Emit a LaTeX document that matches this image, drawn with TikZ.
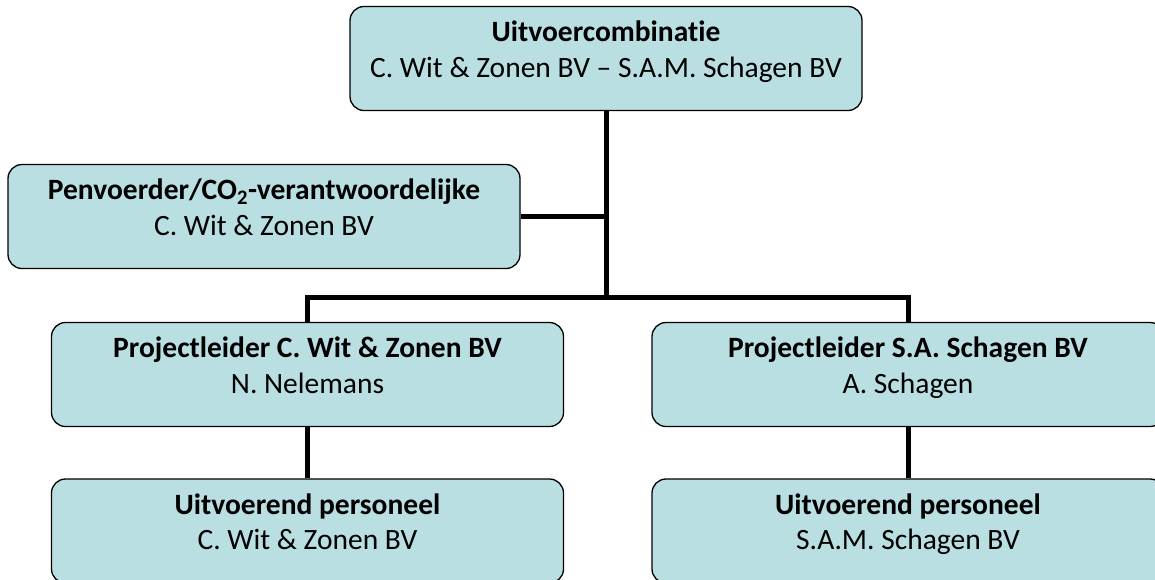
\documentclass[tikz,border=0pt]{standalone}
\usepackage{fontspec}
\setmainfont{Carlito}[Ligatures=NoCommon]
\usetikzlibrary{positioning}
\definecolor{boxfill}{HTML}{B9DFE3}
\tikzset{
  orgbox/.style={draw=black, line width=1.3pt, fill=boxfill, rounded corners=14pt,
    minimum width=512pt, minimum height=104pt, inner sep=0pt},
  boxtext/.style={align=center, inner sep=0pt, font=\fontsize{29.5}{35.5}\selectfont},
  link/.style={line width=5pt}
}
\begin{document}
\begin{tikzpicture}[x=1pt,y=-1pt]
\useasboundingbox (0,0) rectangle (1155,579);
% boxes
\node[orgbox] (top) at (606,58.5){};
\node[orgbox] (pen) at (264,216.5){};
\node[orgbox] (pl1) at (307.5,374.5){};
\node[orgbox] (pl2) at (908,374.5){};
\node[orgbox] (up1) at (307.5,531){};
\node[orgbox] (up2) at (908,531){};
% texts
\node[boxtext, below=15pt of top.north] (toptxt) {\textbf{Uitvoercombinatie}\\C. Wit \& Zonen BV -- S.A.M. Schagen BV};
\node[boxtext, below=15pt of pen.north] (pentxt) {\textbf{Penvoerder/CO\textsubscript{2}-verantwoordelijke}\\C. Wit \& Zonen BV};
\node[boxtext, below=15pt of pl1.north] (pl1txt) {\textbf{Projectleider C. Wit \& Zonen BV}\\N. Nelemans};
\node[boxtext, below=15pt of pl2.north] (pl2txt) {\textbf{Projectleider S.A. Schagen BV}\\A. Schagen};
\node[boxtext, below=15pt of up1.north] (up1txt) {\textbf{Uitvoerend personeel}\\C. Wit \& Zonen BV};
\node[boxtext, below=15pt of up2.north] (up2txt) {\textbf{Uitvoerend personeel}\\S.A.M. Schagen BV};
% connectors
\coordinate (bus) at (606,297);
\draw[link] (top.south) -- (bus);
\draw[link] (pen.east) -- (pen.east -| top.south);
\draw[link] (bus) -| (pl1.north);
\draw[link] (bus) -| (pl2.north);
\draw[link] (pl1.south) -- (up1.north);
\draw[link] (pl2.south) -- (up2.north);
\end{tikzpicture}
\end{document}
